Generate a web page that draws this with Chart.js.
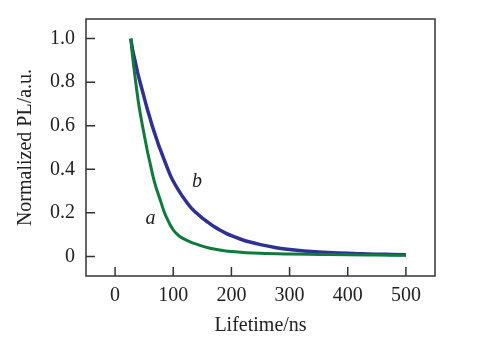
<!DOCTYPE html>
<html>
<head>
<meta charset="utf-8">
<script src="https://cdn.jsdelivr.net/npm/chart.js@4"></script>
<style>
  html, body { margin: 0; padding: 0; background: #fff; }
</style>
</head>
<body>
<canvas id="chart" width="497" height="344"></canvas>
<script>
// curve a (green)
const timeA = [27, 30, 35, 40, 45, 50, 55, 60, 65, 70, 75, 80, 85, 90, 95, 100, 105,
    110, 120, 130, 140, 150, 160, 170, 180, 190, 200, 225, 250, 300, 350, 400, 450, 500];
const plA = [1.0, 0.92, 0.81, 0.71, 0.63, 0.56, 0.49, 0.43, 0.37, 0.32, 0.28, 0.24, 0.20, 0.17, 0.143, 0.122, 0.106,
    0.094, 0.078, 0.066, 0.056, 0.047, 0.040, 0.034, 0.029, 0.025, 0.022, 0.017, 0.014, 0.011, 0.009, 0.007, 0.006, 0.005];

// curve b (blue)
const timeB = [27, 30, 35, 40, 45, 50, 55, 60, 65, 70, 75, 80, 85, 90, 95, 100,
    110, 120, 130, 140, 150, 160, 170, 180, 190, 200, 215, 230, 250, 275, 300, 325, 350, 375, 400, 425, 450, 475, 500];
const plB = [1.0, 0.95, 0.89, 0.83, 0.78, 0.73, 0.68, 0.635, 0.59, 0.55, 0.51, 0.475, 0.44, 0.405, 0.372, 0.345,
    0.30, 0.26, 0.225, 0.199, 0.176, 0.156, 0.137, 0.121, 0.107, 0.095, 0.080, 0.067, 0.054, 0.041, 0.032, 0.025, 0.020, 0.017, 0.014, 0.012, 0.010, 0.009, 0.008];

const xTicks = [0, 100, 200, 300, 400, 500];
const yTicks = [0, 0.2, 0.4, 0.6, 0.8, 1.0];
const yTickLabels = ['0', '0.2', '0.4', '0.6', '0.8', '1.0'];

const greenColor = '#0f7a3c';
const blueColor = '#2e3192';
const axisColor = '#333333';
const serif = '"Liberation Serif", "DejaVu Serif", serif';

// frame box and inward tick marks, plus the a/b curve labels
const framePlugin = {
    id: 'frame',
    afterDatasetsDraw(chart) {
        const { ctx, chartArea, scales } = chart;
        ctx.save();
        ctx.strokeStyle = axisColor;
        ctx.lineWidth = 1.5;
        ctx.strokeRect(chartArea.left, chartArea.top, chartArea.right - chartArea.left, chartArea.bottom - chartArea.top);

        ctx.beginPath();
        scales.x.ticks.forEach(t => {
            const px = scales.x.getPixelForValue(t.value);
            ctx.moveTo(px, chartArea.bottom);
            ctx.lineTo(px, chartArea.bottom - 9);
        });
        scales.y.ticks.forEach(t => {
            const py = scales.y.getPixelForValue(t.value);
            ctx.moveTo(chartArea.left, py);
            ctx.lineTo(chartArea.left + 9, py);
        });
        ctx.stroke();

        ctx.fillStyle = '#222';
        ctx.font = 'italic 20px ' + serif;
        ctx.textAlign = 'center';
        ctx.textBaseline = 'middle';
        ctx.fillText('a', scales.x.getPixelForValue(61), scales.y.getPixelForValue(0.175));
        ctx.fillText('b', scales.x.getPixelForValue(141), scales.y.getPixelForValue(0.345));
        ctx.restore();
    }
};

addEventListener('DOMContentLoaded', () => {
    const ctx = document.getElementById('chart').getContext('2d');
    new Chart(ctx, {
        type: 'line',
        data: {
            datasets: [
                {
                    label: 'a',
                    data: timeA.map((t, i) => ({ x: t, y: plA[i] })),
                    borderColor: greenColor,
                    borderWidth: 3,
                    pointRadius: 0,
                    cubicInterpolationMode: 'monotone',
                    fill: false,
                },
                {
                    label: 'b',
                    data: timeB.map((t, i) => ({ x: t, y: plB[i] })),
                    borderColor: blueColor,
                    borderWidth: 3.5,
                    pointRadius: 0,
                    cubicInterpolationMode: 'monotone',
                    fill: false,
                }
            ]
        },
        options: {
            responsive: false,
            animation: false,
            layout: {
                padding: { top: 19, right: 62, left: 0, bottom: 0 }
            },
            plugins: {
                legend: { display: false },
                tooltip: { enabled: false },
            },
            scales: {
                x: {
                    type: 'linear',
                    min: -50,
                    max: 550,
                    afterBuildTicks: scale => { scale.ticks = xTicks.map(v => ({ value: v })); },
                    afterFit: scale => {
                        scale.height = 68;
                        scale.paddingLeft = 0;
                        scale.paddingRight = 0;
                    },
                    grid: { display: false, drawTicks: false },
                    border: { display: false },
                    ticks: {
                        padding: 8,
                        color: '#222',
                        font: { family: serif, size: 20 },
                        maxRotation: 0,
                        callback: v => String(v),
                    },
                    title: {
                        display: true,
                        text: 'Lifetime/ns',
                        color: '#222',
                        font: { family: serif, size: 20 },
                        padding: { top: 0, bottom: 6 },
                    },
                },
                y: {
                    type: 'linear',
                    min: -0.09,
                    max: 1.09,
                    afterBuildTicks: scale => { scale.ticks = yTicks.map(v => ({ value: v })); },
                    afterFit: scale => {
                        scale.width = 86;
                        scale.paddingTop = 0;
                        scale.paddingBottom = 0;
                    },
                    grid: { display: false, drawTicks: false },
                    border: { display: false },
                    ticks: {
                        padding: 11,
                        color: '#222',
                        font: { family: serif, size: 20 },
                        callback: v => yTickLabels[yTicks.findIndex(t => Math.abs(t - v) < 1e-6)],
                    },
                    title: {
                        display: true,
                        text: 'Normalized PL/a.u.',
                        color: '#222',
                        font: { family: serif, size: 20 },
                        padding: { top: 14, bottom: 0 },
                    },
                }
            }
        },
        plugins: [framePlugin]
    });
});
</script>
</body>
</html>
